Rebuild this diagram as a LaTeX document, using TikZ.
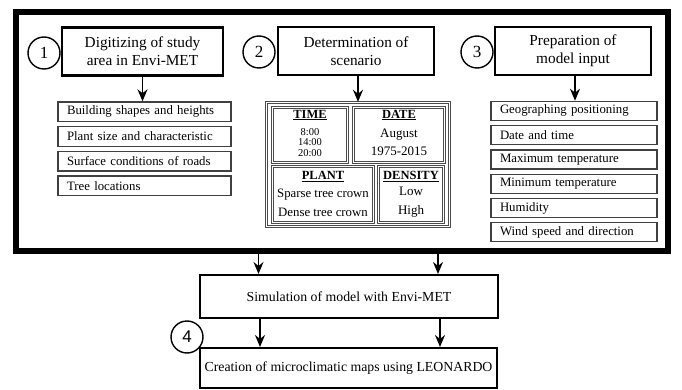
\documentclass[tikz,border=0pt]{standalone}
\usepackage{fontspec}
\setmainfont{Liberation Serif}
\newfontfamily\numsans{Liberation Sans}
\usetikzlibrary{arrows.meta,calc}
\tikzset{
  frame/.style={draw=black,line width=6pt,inner sep=0pt},
  titlebox/.style={draw=black,line width=2.2pt,inner sep=0pt,align=center,font=\fontsize{15.3}{18}\selectfont,fill=white},
  numcirc/.style={draw=black,circle,line width=1.4pt,inner sep=0pt,minimum size=32pt,font=\fontsize{17}{17}\selectfont,fill=white},
  itembox/.style={draw=black!75,line width=1.3pt,inner ysep=0pt,inner xsep=9pt,align=left,font=\fontsize{12.8}{14}\selectfont},
  dbox/.style={draw=black!70,double=white,double distance=1.3pt,line width=0.7pt,inner sep=0pt},
  cell/.style={dbox,align=center},
  flowbox/.style={draw=black,line width=2pt,inner sep=0pt,align=center,font=\fontsize{13.8}{16}\selectfont},
  arr/.style={line width=1.7pt,-{Stealth[length=12pt,width=10pt]}},
  hd/.style={font=\fontsize{12.5}{14}\bfseries\selectfont},
}
\begin{document}
\begin{tikzpicture}[x=1pt,y=-1pt]
\useasboundingbox (0,0) rectangle (682,390);
% main frame
\node[frame,minimum width=652pt,minimum height=239pt] (frame) at (341.5,131.5) {};
% title boxes
\node[titlebox,minimum width=161pt,minimum height=48pt] (b1) at (142.5,51.5) {Digitizing of study\\area in Envi-MET};
\node[titlebox,minimum width=156pt,minimum height=48pt] (b2) at (356,51) {Determination of\\scenario};
\node[titlebox,minimum width=156pt,minimum height=48pt] (b3) at (573,51) {Preparation of\\model input};
\node[numcirc] (c1) at (44,53) {1};
\node[numcirc] (c2) at (259,52) {2};
\node[numcirc] (c3) at (477,52) {3};
% list 1
\foreach \i/\y/\t in {1/111.7/Building shapes and heights,2/136.5/Plant size and characteristic,3/161.2/Surface conditions of roads,4/185.8/Tree locations}{
  \node[itembox,text width=155pt,minimum height=19.5pt] (l\i) at (144.5,\y) {\t};
}
% list 3
\foreach \i/\y/\t in {1/110.9/Geographing positioning,2/135.1/Date and time,3/159.5/Maximum temperature,4/183.8/Minimum temperature,5/208/Humidity,6/232.2/Wind speed and direction}{
  \node[itembox,text width=148pt,minimum height=19pt] (r\i) at (574,\y) {\t};
}
% scenario
\node[dbox,minimum width=183pt,minimum height=124pt] (sc) at (358.3,164.2) {};
\node[cell,minimum width=75pt,minimum height=55pt] (time) at (310,134.7) {};
\node[cell,minimum width=91pt,minimum height=55pt] (date) at (399,134.7) {};
\node[cell,minimum width=101pt,minimum height=56pt] (plant) at (323,194.3) {};
\node[cell,minimum width=65pt,minimum height=56pt] (dens) at (411,194.3) {};
\node[hd] (timeh) at (310,115) {\underline{TIME}};
\node[font=\fontsize{10.5}{10.5}\selectfont,align=center] (timet) at (310,142.5) {8:00\\14:00\\20:00};
\node[hd] (dateh) at (399,115) {\underline{DATE}};
\node[font=\fontsize{13}{18}\selectfont,align=center] (datet) at (399,142) {August\\1975-2015};
\node[hd] (planth) at (323,176.5) {\underline{PLANT}};
\node[font=\fontsize{12.8}{19}\selectfont,align=center] (plantt) at (323,202.5) {Sparse tree crown\\Dense tree crown};
\node[hd] (densh) at (411,176.5) {\underline{DENSITY}};
\node[font=\fontsize{13}{19}\selectfont,align=center] (denst) at (411,202.5) {Low\\High};
% arrows inside frame
\draw[arr] (b1.south) -- (b1.south |- l1.north);
\draw[arr] (b2.south) ++(2,0) coordinate (a2s) (a2s) -- (a2s |- sc.north);
\draw[arr] (b3.south) ++(2,0) coordinate (a3s) (a3s) -- (a3s |- r1.north);
% bottom flow
\node[flowbox,minimum width=298pt,minimum height=43pt] (sim) at (349,296.5) {Simulation of model with Envi-MET};
\node[flowbox,minimum width=297pt,minimum height=40pt] (cre) at (348.5,368) {Creation of microclimatic maps using LEONARDO};
\node[numcirc,font=\numsans\fontsize{17}{17}\selectfont] (c4) at (187,337) {4};
\coordinate (x1) at (258.5,0);
\coordinate (x2) at (438,0);
\draw[arr] (frame.south -| x1) -- (sim.north -| x1);
\draw[arr] (frame.south -| x2) -- (sim.north -| x2);
\coordinate (x3) at (260,0);
\coordinate (x4) at (440,0);
\draw[arr] (sim.south -| x3) -- (cre.north -| x3);
\draw[arr] (sim.south -| x4) -- (cre.north -| x4);
\end{tikzpicture}
\end{document}
